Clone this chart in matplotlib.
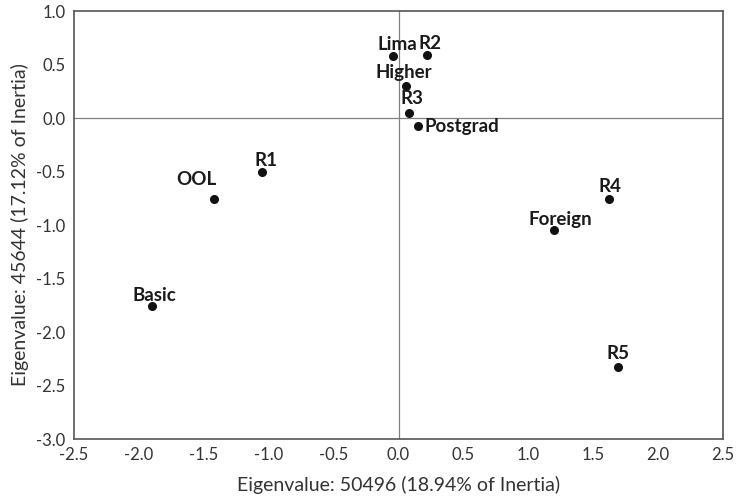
import matplotlib
matplotlib.use("Agg")
import matplotlib.pyplot as plt
import numpy as np

# category labels and coordinates
labels = ["Lima", "R2", "Higher", "R3", "Postgrad", "R1", "OOL",
          "Basic", "R4", "Foreign", "R5"]
dim1 = [-0.04, 0.22, 0.06, 0.08, 0.15, -1.05, -1.42, -1.90, 1.62, 1.20, 1.69]
dim2 = [0.58, 0.59, 0.30, 0.05, -0.07, -0.50, -0.76, -1.76, -0.76, -1.05, -2.33]

x_ticks = np.arange(-2.5, 2.51, 0.5)
y_ticks = np.arange(-3.0, 1.01, 0.5)

# label offsets in points (dx, dy, ha)
offsets = {
    "Lima": (3, 8, "center"), "R2": (2, 8, "center"),
    "Higher": (-2, 10, "center"), "R3": (2, 10, "center"),
    "Postgrad": (5, -1, "left"), "R1": (3, 8, "center"),
    "OOL": (-13, 14, "center"), "Basic": (2, 8, "center"),
    "R4": (1, 9, "center"), "Foreign": (4, 8, "center"),
    "R5": (0, 10, "center"),
}

plt.rcParams["font.family"] = ["Lato", "DejaVu Sans"]

fig = plt.figure(figsize=(7.38, 5.03), dpi=100)
ax = fig.add_axes([0.1003, 0.1272, 0.8794, 0.8509])

ax.axhline(0, color="#808080", lw=0.9, zorder=1)
ax.axvline(0, color="#808080", lw=0.9, zorder=1)
ax.plot(dim1, dim2, "o", color="#111111", markersize=5.5, zorder=3)

for lab, x, y in zip(labels, dim1, dim2):
    dx, dy, ha = offsets[lab]
    ax.annotate(lab, (x, y), xytext=(dx, dy), textcoords="offset points",
                ha=ha, va="center", fontsize=13.5, fontweight="bold",
                color="#1a1a1a")

ax.set_xlim(-2.5, 2.5)
ax.set_ylim(-3.0, 1.0)
ax.set_xticks(x_ticks)
ax.set_yticks(y_ticks)
ax.set_xticklabels([f"{v:.1f}" for v in x_ticks])
ax.set_yticklabels([f"{v:.1f}" for v in y_ticks])
ax.tick_params(length=0, labelsize=12, colors="#333333", pad=6)
for s in ax.spines.values():
    s.set_color("#555555")
    s.set_linewidth(1.2)

ax.set_xlabel("Eigenvalue: 50496 (18.94% of Inertia)", fontsize=14, color="#333333", labelpad=9)
ax.set_ylabel("Eigenvalue: 45644 (17.12% of Inertia)", fontsize=14, color="#333333", labelpad=5)

fig.savefig("out.png", dpi=100)
